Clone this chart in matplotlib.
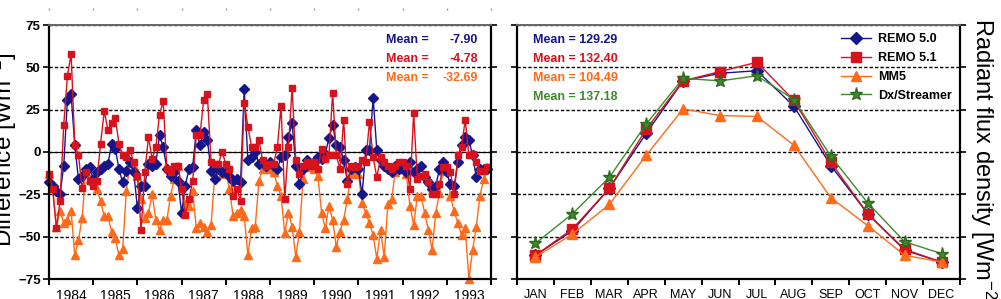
import numpy as np
import matplotlib
matplotlib.use("Agg")
import matplotlib.pyplot as plt
from matplotlib.ticker import FixedLocator, NullFormatter, FixedFormatter

plt.rcParams['font.family'] = ['Liberation Sans', 'DejaVu Sans']
plt.rcParams['mathtext.default'] = 'regular'

# ---------------- data ----------------
years = list(range(1984, 1994))

remo50_diff = [
    -18, -20, -23, -25, -8, 31, 34, 4, -16, -14, -10, -9,
    -16, -12, -10, -8, -7, 5, 2, -10, -18, -11, -6, -12,
    -33, -20, -20, -7, -8, -7, 10, 3, -10, -14, -12, -17,
    -36, -20, -10, -9, 13, 4, 12, 7, -11, -16, -10, -12,
    -12, -14, -17, -16, -18, 37, -5, -3, 0, -7, -6, -8,
    -6, -8, -10, -3, -2, 9, 17, -8, -19, -10, -5, -7,
    -6, -3, -4, -1, 8, 16, 4, 3, -5, -17, -10, -9,
    -10, -25, 1, 1, 32, 1, -5, -8, -10, -12, -8, -10,
    -8, -12, -6, -12, -10, -8, -15, -18, -22, -20, -10, -6,
    -12, -19, -20, -6, 4, 9, 7, -2, -15, -10, -10, -10,
]
remo51_diff = [
    -13, -22, -45, -29, 16, 45, 58, 4, -2, -21, -12, -17,
    -20, -17, 5, 24, 13, 17, 20, 5, -2, -3, 1, -6,
    -14, -46, -12, 9, -4, 3, 22, 30, -10, -12, -8, -8,
    -22, -37, -28, -17, 10, 10, 31, 34, -6, -7, -7, 0,
    -7, -10, -26, -22, -29, 29, 15, 3, 3, 7, -5, -8,
    -7, -7, 3, 27, -28, 3, 38, -5, -13, -8, -6, -8,
    -6, -10, 2, -4, -2, 35, -2, -10, 19, -19, -8, -9,
    -8, -5, -6, 18, -3, -15, -3, -6, -8, -10, -8, -6,
    -6, -8, -22, 23, -16, -14, -13, -18, -25, -25, -19, -9,
    -9, -12, -25, -2, 3, 19, -2, -1, -6, -11, -11, -9,
]
mm5_diff = [
    -13, -21, -44, -35, -42, -40, -35, -61, -52, -39, -10, -16,
    -17, -22, -29, -38, -38, -47, -51, -61, -57, -23, -6, -8,
    -14, -28, -39, -36, -25, -40, -46, -40, -40, -26, -16, -8,
    -20, -31, -32, -23, -45, -42, -44, -47, -43, -14, -10, -13,
    -12, -22, -38, -36, -34, -38, -61, -45, -44, -17, -10, -8,
    -10, -12, -20, -26, -48, -36, -44, -62, -47, -16, -9, -8,
    -10, -14, -36, -45, -32, -40, -56, -47, -40, -28, -13, -12,
    -13, -30, -36, -42, -49, -63, -46, -62, -31, -28, -12, -10,
    -10, -13, -32, -43, -26, -26, -36, -46, -58, -36, -24, -11,
    -8, -26, -35, -42, -49, -45, -75, -58, -44, -26, -16, -9,
]
diff_means = ["-7.90", "-4.78", "-32.69"]

months = ["JAN", "FEB", "MAR", "APR", "MAY", "JUN", "JUL", "AUG", "SEP", "OCT", "NOV", "DEC"]
remo50_clim = [28, 57, 107, 172, 234, 243, 246, 204, 134, 77, 34, 20]
remo51_clim = [28, 59, 107, 177, 234, 245, 256, 211, 138, 77, 35, 20]
mm5_clim = [26, 53, 88, 146, 201, 193, 192, 158, 96, 63, 28, 20]
dx_clim = [42, 77, 120, 183, 237, 234, 240, 212, 145, 90, 44, 30]
clim_means = ["129.29", "132.40", "104.49", "137.18"]

series_names = ["REMO 5.0", "REMO 5.1", "MM5", "Dx/Streamer"]
colors = ["#16168c", "#d7121c", "#ff6a1a", "#3f8a2c"]

# ---------------- figure ----------------
W, H = 1001, 299
fig = plt.figure(figsize=(W / 100, H / 100), dpi=100)

def fx(px):
    return px / W

def fy(py):
    return 1 - py / H

ax1 = fig.add_axes([fx(49), fy(279), fx(442), 254 / H])
ax2 = fig.add_axes([fx(517), fy(279), fx(443), 254 / H])

dash = (0, (2.4, 1.5))
for ax in (ax1, ax2):
    for s in ("left", "bottom", "right"):
        ax.spines[s].set_linewidth(1.6)
        ax.spines[s].set_color("black")
    ax.spines["top"].set_linewidth(1.4)
    ax.spines["top"].set_color("#666666")
    ax.grid(axis="y", color="black", lw=1.0, ls=dash)
    ax.set_axisbelow(True)
    ax.tick_params(axis="y", which="major", direction="out", length=4, width=1.2,
                   left=True, right=True, labelright=False)
    ax.tick_params(axis="x", which="major", direction="out", length=4, width=1.4,
                   labelbottom=False)
    ax.tick_params(axis="x", which="minor", length=0, labelsize=10, pad=7,
                   colors="black")

# ---- left panel ----
x_time = np.array([y + m / 12 for y in years for m in range(12)])
ax1.plot(x_time, mm5_diff, color=colors[2], marker="^", ms=5.8, lw=1.0, mec=colors[2], clip_on=False)
ax1.plot(x_time, remo50_diff, color=colors[0], marker="D", ms=4.8, lw=1.0, mec=colors[0], clip_on=False)
ax1.plot(x_time, remo51_diff, color=colors[1], marker="s", ms=4.8, lw=1.0, mec=colors[1], clip_on=False)
ax1.axhline(0, color="black", lw=0.8, zorder=1)
ax1.set_xlim(1984, 1994)
ax1.set_ylim(-75, 75)
ax1.set_yticks(np.arange(-75, 76, 25))
for lab in ax1.get_yticklabels():
    lab.set_fontweight("bold")
    lab.set_fontsize(9.5)
ax1.tick_params(axis="y", pad=2)
ax1.xaxis.set_major_locator(FixedLocator(list(range(1984, 1995))))
ax1.xaxis.set_minor_locator(FixedLocator([y + 0.5 for y in years]))
ax1.xaxis.set_minor_formatter(FixedFormatter([str(y) for y in years]))

for i, m in enumerate(diff_means):
    yy = fy(40 + 19 * i)
    fig.text(fx(386), yy, "Mean =", color=colors[i], fontsize=9, fontweight="bold",
             ha="left", va="center")
    fig.text(fx(478), yy, m, color=colors[i], fontsize=9, fontweight="bold",
             ha="right", va="center")

# ---- right panel ----
xm = np.arange(1, 13)
ax2.plot(xm, remo50_clim, color=colors[0], marker="D", ms=6.5, lw=1.0, mec=colors[0],
         label=series_names[0], clip_on=False)
ax2.plot(xm, remo51_clim, color=colors[1], marker="s", ms=6.5, lw=1.0, mec=colors[1],
         label=series_names[1], clip_on=False)
ax2.plot(xm, mm5_clim, color=colors[2], marker="^", ms=7, lw=1.0, mec=colors[2],
         label=series_names[2], clip_on=False)
ax2.plot(xm, dx_clim, color=colors[3], marker="*", ms=9.5, lw=1.0, mec="#2d6a1e",
         label=series_names[3], clip_on=False)
ax2.set_xlim(0.5, 12.5)
ax2.set_ylim(0, 300)
ax2.set_yticks(np.arange(0, 301, 50))
ax2.yaxis.set_major_formatter(NullFormatter())
ax2.xaxis.set_major_locator(FixedLocator(list(np.arange(0.5, 12.6, 1.0))))
ax2.xaxis.set_minor_locator(FixedLocator(list(xm)))
ax2.xaxis.set_minor_formatter(FixedFormatter(months))
ax2.tick_params(axis="x", which="minor", labelsize=9)

leg = ax2.legend(loc="upper right", frameon=False, prop={"weight": "bold", "size": 9},
                 handlelength=2.4, handletextpad=0.6, labelspacing=0.55,
                 borderaxespad=0.3, borderpad=0.35)

for i, m in enumerate(clim_means):
    fig.text(fx(533), fy(40 + 19 * i), "Mean = " + m, color=colors[i], fontsize=9,
             fontweight="bold", ha="left", va="center")

# axis titles
fig.text(fx(4), fy(150), "Difference [Wm$^{-2}$]", rotation=90, fontsize=17.5,
         ha="center", va="center")
fig.text(fx(983), fy(162), "Radiant flux density [Wm$^{-2}$]", rotation=270,
         fontsize=17, ha="center", va="center")

# tiny tick marks of the panel above (cropped)
axt = fig.add_axes([fx(49), fy(9), fx(442), 0.0001])
axt.set_xlim(1984, 1994)
axt.set_xticks(list(range(1984, 1995)))
axt.set_yticks([])
axt.tick_params(axis="x", length=1.5, width=1, color="#999999", direction="inout",
                labelbottom=False)
for s in axt.spines.values():
    s.set_visible(False)
axt.patch.set_visible(False)

fig.savefig("out.png", dpi=100)
